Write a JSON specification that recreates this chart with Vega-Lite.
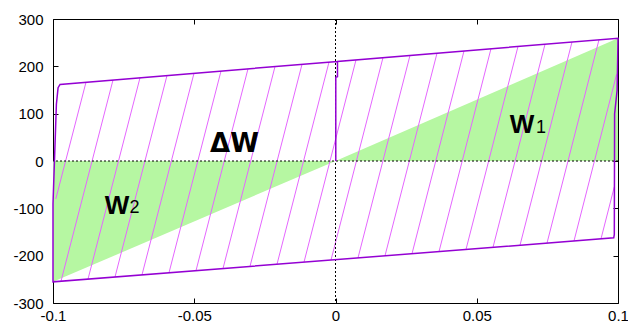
{
  "$schema": "https://vega.github.io/schema/vega-lite/v6.json",
  "width": 565,
  "height": 284,
  "autosize": {"type": "none"},
  "padding": {"left": 53, "top": 19, "right": 10, "bottom": 26},
  "background": "white",
  "config": {
    "view": {"stroke": "black", "strokeWidth": 1},
    "axis": {
      "grid": false,
      "domain": false,
      "labelFont": "Liberation Sans",
      "labelFontSize": 15,
      "labelColor": "#000",
      "tickColor": "#000",
      "tickSize": -5,
      "labelFlush": false,
      "labelOverlap": false,
      "labelBound": false,
      "title": null
    }
  },
  "datasets": {
    "green": [
      {"g": "W1", "x": 0, "y": 0, "y2": 0},
      {"g": "W1", "x": 0.1, "y": 259.4, "y2": 0},
      {"g": "W2", "x": -0.1, "y": -255.3, "y2": 0},
      {"g": "W2", "x": 0, "y": 0, "y2": 0}
    ],
    "hatch": [
      {"xb": -0.0990, "yb": -80.0, "xt": -0.08832, "yt": 166.4},
      {"xb": -0.09717, "yb": -254.0, "xt": -0.07876, "yt": 171.1},
      {"xb": -0.08761, "yb": -249.5, "xt": -0.06920, "yt": 175.8},
      {"xb": -0.07805, "yb": -245.0, "xt": -0.05965, "yt": 180.5},
      {"xb": -0.06850, "yb": -240.6, "xt": -0.05009, "yt": 185.3},
      {"xb": -0.05894, "yb": -236.1, "xt": -0.04053, "yt": 190.0},
      {"xb": -0.04938, "yb": -231.6, "xt": -0.03097, "yt": 194.7},
      {"xb": -0.03982, "yb": -227.1, "xt": -0.02142, "yt": 199.4},
      {"xb": -0.03027, "yb": -222.7, "xt": -0.01186, "yt": 204.1},
      {"xb": -0.02071, "yb": -218.2, "xt": -0.00230, "yt": 208.9},
      {"xb": -0.01115, "yb": -213.7, "xt": 0.00726, "yt": 213.6},
      {"xb": -0.00159, "yb": -209.2, "xt": 0.01681, "yt": 218.3},
      {"xb": 0.00796, "yb": -204.8, "xt": 0.02637, "yt": 223.0},
      {"xb": 0.01752, "yb": -200.3, "xt": 0.03593, "yt": 227.7},
      {"xb": 0.02708, "yb": -195.8, "xt": 0.04549, "yt": 232.5},
      {"xb": 0.03664, "yb": -191.4, "xt": 0.05504, "yt": 237.2},
      {"xb": 0.04619, "yb": -186.9, "xt": 0.06460, "yt": 241.9},
      {"xb": 0.05575, "yb": -182.4, "xt": 0.07416, "yt": 246.6},
      {"xb": 0.06531, "yb": -177.9, "xt": 0.08372, "yt": 251.4},
      {"xb": 0.07487, "yb": -173.5, "xt": 0.09327, "yt": 256.1},
      {"xb": 0.08442, "yb": -169.0, "xt": 0.0995, "yt": 183.0},
      {"xb": 0.09398, "yb": -164.5, "xt": 0.0987, "yt": -54.5}
    ],
    "loop": [
      {"o": 1, "x": 0.0001, "y": 0},
      {"o": 2, "x": 0.0001, "y": 177},
      {"o": 3, "x": 0.0007, "y": 178},
      {"o": 4, "x": 0.0007, "y": 210.3},
      {"o": 5, "x": 0.1, "y": 259.4},
      {"o": 6, "x": 0.0997, "y": 150},
      {"o": 7, "x": 0.0988, "y": 100},
      {"o": 8, "x": 0.0987, "y": -155},
      {"o": 9, "x": 0.0985, "y": -162.4},
      {"o": 10, "x": -0.1, "y": -255.3},
      {"o": 11, "x": -0.1, "y": -90},
      {"o": 12, "x": -0.0988, "y": 120},
      {"o": 13, "x": -0.0982, "y": 155},
      {"o": 14, "x": -0.0975, "y": 161.8},
      {"o": 15, "x": 0.0007, "y": 210.3}
    ],
    "bigW": [
      {"t": "W", "x": 0.0660, "y": 58.4},
      {"t": "W", "x": -0.07735, "y": -111}
    ],
    "subs": [
      {"t": "1", "x": 0.0710, "y": 59},
      {"t": "2", "x": -0.0729, "y": -110}
    ],
    "dw": [
      {"t": "ΔW", "x": -0.0444, "y": 19.5}
    ]
  },
  "resolve": {"axis": {"x": "independent", "y": "independent"}},
  "layer": [
    {
      "data": {"name": "green"},
      "mark": {"type": "area", "color": "#b6f7a2", "opacity": 1},
      "encoding": {
        "x": {"field": "x", "type": "quantitative",
              "scale": {"domain": [-0.1, 0.1], "nice": false, "zero": false},
              "axis": {"orient": "bottom", "values": [-0.1, -0.05, 0, 0.05, 0.1], "labelExpr": "toString(datum.value)", "labelPadding": 10}},
        "y": {"field": "y", "type": "quantitative",
              "scale": {"domain": [-300, 300], "nice": false, "zero": false},
              "axis": {"orient": "left", "values": [-300, -200, -100, 0, 100, 200, 300], "labelExpr": "toString(datum.value)", "labelPadding": 15}},
        "y2": {"field": "y2"},
        "detail": {"field": "g"}
      }
    },
    {
      "data": {"name": "hatch"},
      "mark": {"type": "rule", "color": "#e566ff", "strokeWidth": 1},
      "encoding": {
        "x": {"field": "xb", "type": "quantitative",
              "axis": {"orient": "top", "values": [-0.1, -0.05, 0, 0.05, 0.1], "labels": false}},
        "y": {"field": "yb", "type": "quantitative",
              "axis": {"orient": "right", "values": [-300, -200, -100, 0, 100, 200, 300], "labels": false}},
        "x2": {"field": "xt"},
        "y2": {"field": "yt"}
      }
    },
    {
      "data": {"values": [{}]},
      "mark": {"type": "rule", "color": "#000", "strokeWidth": 1, "strokeDash": [2, 2]},
      "encoding": {"y": {"datum": 0, "type": "quantitative", "axis": null}}
    },
    {
      "data": {"values": [{}]},
      "mark": {"type": "rule", "color": "#000", "strokeWidth": 1, "strokeDash": [2, 2]},
      "encoding": {"x": {"datum": 0, "type": "quantitative", "axis": null}}
    },
    {
      "data": {"name": "loop"},
      "mark": {"type": "line", "color": "#9400d3", "strokeWidth": 1.5},
      "encoding": {
        "x": {"field": "x", "type": "quantitative", "axis": null},
        "y": {"field": "y", "type": "quantitative", "axis": null},
        "order": {"field": "o"}
      }
    },
    {
      "data": {"name": "bigW"},
      "mark": {"type": "text", "font": "Liberation Sans", "fontWeight": "bold", "fontSize": 26, "align": "center", "baseline": "alphabetic", "color": "#000"},
      "encoding": {
        "x": {"field": "x", "type": "quantitative", "axis": null},
        "y": {"field": "y", "type": "quantitative", "axis": null},
        "text": {"field": "t"}
      }
    },
    {
      "data": {"name": "subs"},
      "mark": {"type": "text", "font": "Liberation Sans", "fontSize": 18, "align": "left", "baseline": "alphabetic", "color": "#000"},
      "encoding": {
        "x": {"field": "x", "type": "quantitative", "axis": null},
        "y": {"field": "y", "type": "quantitative", "axis": null},
        "text": {"field": "t"}
      }
    },
    {
      "data": {"name": "dw"},
      "mark": {"type": "text", "font": "DejaVu Sans", "fontWeight": "bold", "fontSize": 26, "align": "left", "baseline": "alphabetic", "color": "#000"},
      "encoding": {
        "x": {"field": "x", "type": "quantitative", "axis": null},
        "y": {"field": "y", "type": "quantitative", "axis": null},
        "text": {"field": "t"}
      }
    }
  ]
}
